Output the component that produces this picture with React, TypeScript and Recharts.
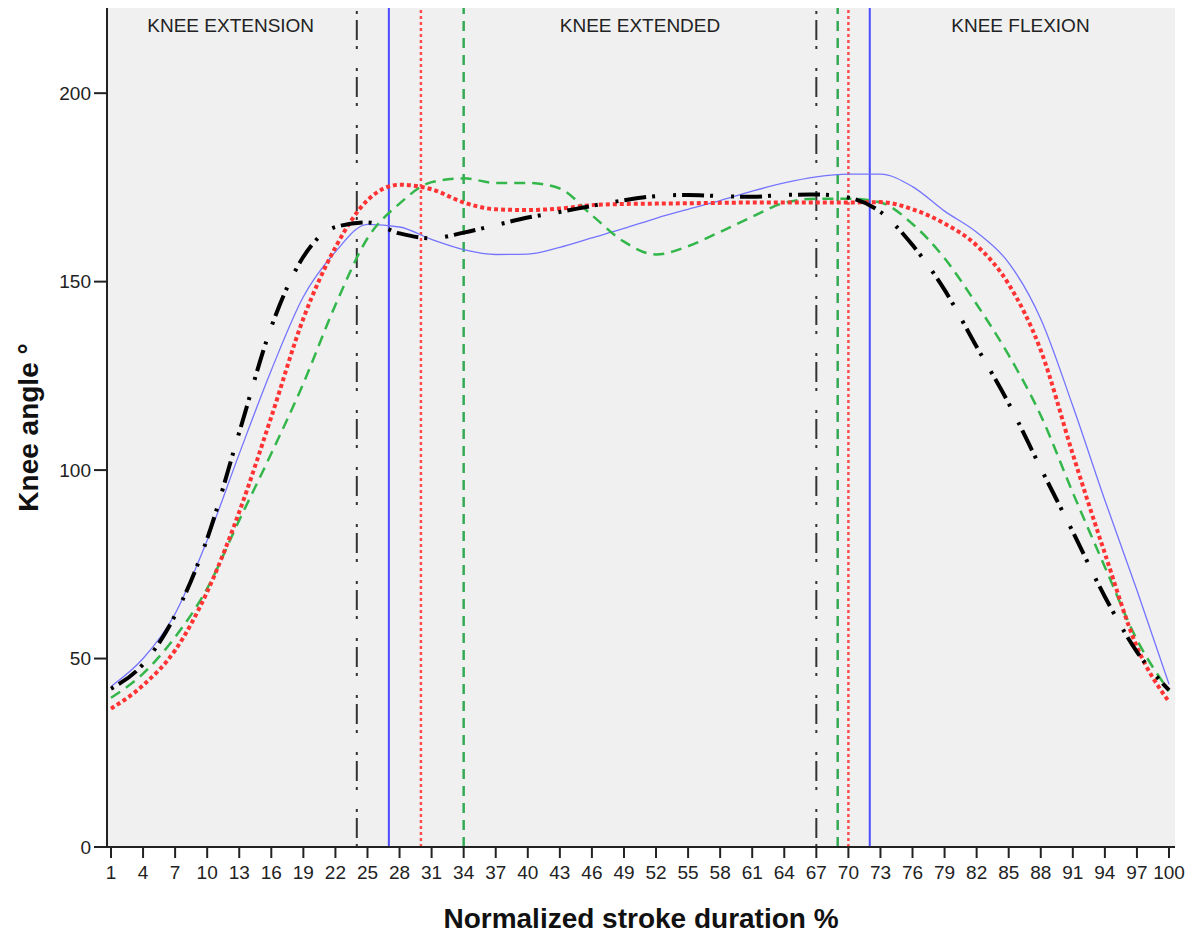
import React from "react";
import {
  CartesianGrid,
  Line,
  LineChart,
  ReferenceDot,
  ReferenceLine,
  XAxis,
  YAxis,
} from "recharts";

// normalized stroke duration (%), sampled at the tick positions
const xTicks = [
  1, 4, 7, 10, 13, 16, 19, 22, 25, 28, 31, 34, 37, 40, 43, 46, 49, 52, 55, 58,
  61, 64, 67, 70, 73, 76, 79, 82, 85, 88, 91, 94, 97, 100,
];
const yTicks = [0, 50, 100, 150, 200];

// knee angle (deg) for each trace
const angleBlack = [
  42, 48.5, 61.5, 81.8, 110, 138, 156.6, 164.5, 165.7, 162.8, 161.5, 163, 165,
  167, 168.5, 170.1, 171.6, 172.7, 173, 172.7, 172.5, 173, 173.1, 172.3, 168.5,
  159.7, 147.8, 132.7, 117.7, 100.5, 83.6, 66.4, 51.8, 41.6,
];
const angleBlue = [
  42.6, 50, 61.9, 81.4, 104.3, 126.5, 146, 157.9, 165.2, 164.5, 161.2, 158.5,
  157.2, 157.3, 159.1, 161.6, 164.1, 166.8, 169.2, 171.5, 174, 176.2, 177.8,
  178.5, 178.5, 175.2, 168.7, 163.1, 155, 140.1, 117, 92, 68.1, 43.2,
];
const angleRed = [
  36.7, 42.9, 52.2, 67.7, 88.9, 114.1, 140.2, 159.1, 171.6, 175.7, 174.5, 171,
  169.2, 169, 169.4, 170.3, 170.6, 170.7, 170.8, 170.9, 171, 171, 171, 171,
  171.1, 169.2, 165.4, 159.6, 149.3, 131.8, 104.2, 77.9, 53.1, 38.5,
];
const angleGreen = [
  39.6, 46, 55.7, 68.6, 86.7, 104.4, 123, 143.8, 161.5, 170.7, 176.4, 177.4,
  176.2, 176.2, 174.7, 167.6, 160.6, 157.2, 159.4, 163.2, 167.2, 170.9, 172,
  172, 171, 165.3, 156.2, 144, 130.5, 114.5, 94, 74.3, 55, 41.4,
];

// phase boundaries (%) per trace
const blackMarks = [24, 67];
const blueMarks = [27, 72];
const redMarks = [30, 70];
const greenMarks = [34, 69];

const phaseNames = ["KNEE EXTENSION", "KNEE EXTENDED", "KNEE FLEXION"];
const phaseCenters = [12.2, 50.5, 86.1];
const phaseLabelY = 217.9;

const data = xTicks.map((x, i) => ({
  x,
  black: angleBlack[i],
  blue: angleBlue[i],
  red: angleRed[i],
  green: angleGreen[i],
}));

const FONT = "'Liberation Sans', Arial, sans-serif";

const YTitle = (props: any) => {
  const vb = props.viewBox || { x: 0, y: 0, height: 0 };
  const cx = vb.x + 28;
  const cy = vb.y + vb.height / 2;
  return (
    <text
      x={cx}
      y={cy}
      transform={`rotate(-90 ${cx} ${cy})`}
      textAnchor="middle"
      dominantBaseline="central"
      fontFamily={FONT}
      fontSize={28}
      fontWeight="bold"
      fill="#111"
    >
      Knee angle °
    </text>
  );
};

export default function App() {
  return (
    <div style={{ position: "absolute", left: 0, top: 0, fontFamily: FONT }}>
      <LineChart
        width={1197}
        height={936}
        data={data}
        margin={{ top: 8, right: 22, bottom: 0, left: 0 }}
      >
        <CartesianGrid fill="#f0f0f0" horizontal={false} vertical={false} />
        <XAxis
          dataKey="x"
          type="number"
          domain={[1, 100]}
          ticks={xTicks}
          interval={0}
          padding={{ left: 4, right: 6 }}
          height={89}
          tickSize={11}
          tickMargin={8}
          tick={{ fill: "#222", fontSize: 19, fontFamily: FONT }}
          tickLine={{ stroke: "#222", strokeWidth: 2 }}
          axisLine={{ stroke: "#222", strokeWidth: 2 }}
          label={{
            value: "Normalized stroke duration %",
            position: "insideBottom",
            offset: 8,
            fontSize: 28,
            fontWeight: "bold",
            fill: "#111",
            fontFamily: FONT,
          }}
        />
        <XAxis
          xAxisId="top"
          orientation="top"
          type="number"
          domain={[1, 100]}
          height={0}
          tick={false}
          tickLine={false}
          axisLine={{ stroke: "#777", strokeWidth: 2 }}
        />
        <YAxis
          type="number"
          domain={[0, 222.6]}
          ticks={yTicks}
          width={107}
          tickSize={13}
          tickMargin={3}
          tick={{ fill: "#222", fontSize: 19, fontFamily: FONT }}
          tickLine={{ stroke: "#222", strokeWidth: 2 }}
          axisLine={{ stroke: "#222", strokeWidth: 2 }}
          label={<YTitle />}
        />
        <YAxis
          yAxisId="right"
          orientation="right"
          type="number"
          domain={[0, 222.6]}
          width={0}
          tick={false}
          tickLine={false}
          axisLine={{ stroke: "#777", strokeWidth: 2 }}
        />

        {blackMarks.map((m) => (
          <ReferenceLine
            key={"k" + m}
            x={m}
            stroke="#333"
            strokeWidth={2}
            strokeDasharray="3 6 20 6 3 19"
          />
        ))}
        {blueMarks.map((m) => (
          <ReferenceLine key={"b" + m} x={m} stroke="#4b4bff" strokeWidth={2} />
        ))}
        {redMarks.map((m) => (
          <ReferenceLine
            key={"r" + m}
            x={m}
            stroke="#ff4d4d"
            strokeWidth={2.5}
            strokeDasharray="3 3"
          />
        ))}
        {greenMarks.map((m) => (
          <ReferenceLine
            key={"g" + m}
            x={m}
            stroke="#35aa55"
            strokeWidth={2.5}
            strokeDasharray="10 7"
          />
        ))}

        {phaseNames.map((name, i) => (
          <ReferenceDot
            key={name}
            x={phaseCenters[i]}
            y={phaseLabelY}
            r={0}
            fill="none"
            stroke="none"
            label={{
              value: name,
              position: "center",
              fill: "#222",
              fontSize: 19,
              fontFamily: FONT,
            }}
          />
        ))}

        <Line
          type="monotone"
          dataKey="blue"
          stroke="#7474ff"
          strokeWidth={1.3}
          dot={false}
          activeDot={false}
          isAnimationActive={false}
        />
        <Line
          type="monotone"
          dataKey="green"
          stroke="#33b64a"
          strokeWidth={2.5}
          strokeDasharray="11 7"
          dot={false}
          activeDot={false}
          isAnimationActive={false}
        />
        <Line
          type="monotone"
          dataKey="red"
          stroke="#ff3333"
          strokeWidth={4}
          strokeDasharray="4 3"
          dot={false}
          activeDot={false}
          isAnimationActive={false}
        />
        <Line
          type="monotone"
          dataKey="black"
          stroke="#000"
          strokeWidth={4}
          strokeDasharray="3 6 22 6 3 18"
          dot={false}
          activeDot={false}
          isAnimationActive={false}
        />
      </LineChart>
    </div>
  );
}
